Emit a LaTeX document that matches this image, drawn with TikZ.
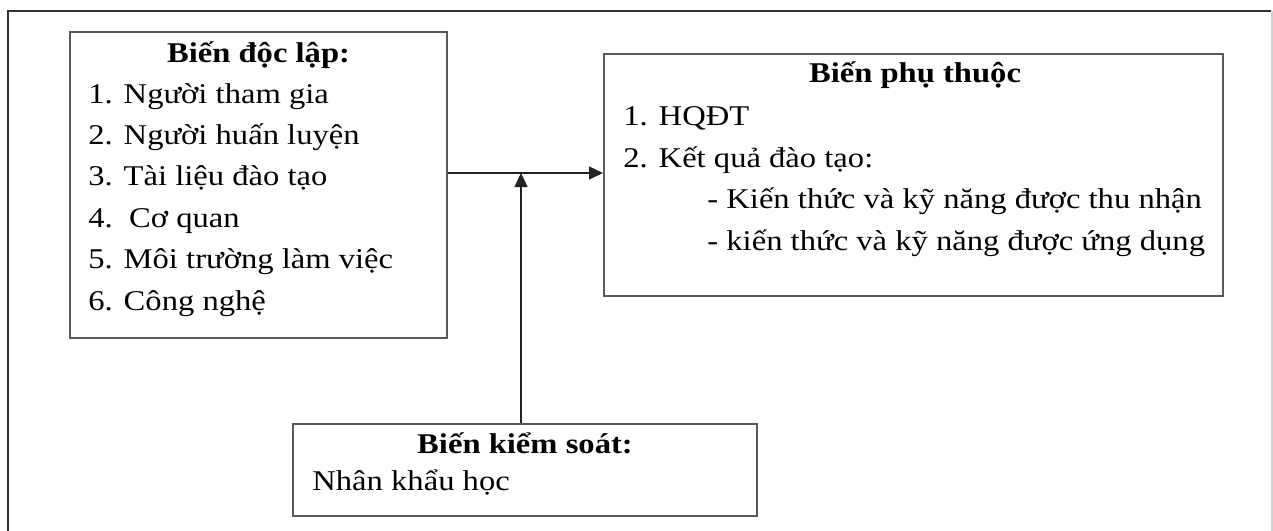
\documentclass[tikz,border=0pt]{standalone}
\usepackage{fontspec}
\setmainfont[FakeStretch=1.14]{Liberation Serif}
\usetikzlibrary{arrows.meta,positioning}
\definecolor{FrameDark}{HTML}{333333}
\definecolor{FrameLight}{HTML}{D0D0D0}
\definecolor{BoxGray}{HTML}{5A5A5A}
\definecolor{ArrowDark}{HTML}{222222}

\begin{document}
\begin{tikzpicture}[
    x=0.5pt, y=-0.5pt,
    varbox/.style={draw=BoxGray, line width=1pt, inner sep=0pt},
    boxtitle/.style={anchor=base, inner sep=0pt, font=\fontsize{14.3}{20}\selectfont\bfseries},
    item/.style={anchor=base west, inner sep=0pt, font=\fontsize{14.3}{20}\selectfont},
    arrow/.style={-{Triangle[length=7pt,width=6.5pt]}, line width=0.6pt, draw=ArrowDark}
]
\useasboundingbox (0,0) rectangle (1273,530);
% outer frame
\draw[FrameDark, line width=0.6pt] (8,535) -- (8,11) -- (1271,11);
\draw[FrameLight, line width=0.8pt] (1272,11) -- (1272,535);

% boxes
\node[varbox, minimum width=188.5pt, minimum height=153pt] (indep) at (258.5,185) {};
\node[varbox, minimum width=309.5pt, minimum height=121pt] (dep) at (913.5,175) {};
\node[varbox, minimum width=232pt, minimum height=46pt] (ctrl) at (525,470) {};

% independent variables
\node[boxtitle] (indeptitle) at (258.5,62) {Biến độc lập:};
\foreach \t [count=\i] in {1. Người tham gia, 2. Người huấn luyện, 3. Tài liệu đào tạo,
    4.\ \ Cơ quan, 5. Môi trường làm việc, 6. Công nghệ}
  \node[item] (ind\i) at (88,{103+41.4*(\i-1)}) {\t};

% dependent variables
\node[boxtitle] (deptitle) at (915,82) {Biến phụ thuộc};
\node[item] (dep1) at (623,125) {1. HQĐT};
\node[item] (dep2) at (623,167) {2. Kết quả đào tạo:};
\node[item] (dep2a) at (707,208) {- Kiến thức và kỹ năng được thu nhận};
\node[item] (dep2b) at (707,250) {- kiến thức và kỹ năng được ứng dụng};

% control variables
\node[boxtitle] (ctrltitle) at (525,453) {Biến kiểm soát:};
\node[item] (ctrl1) at (312,490) {Nhân khẩu học};

% connectors
\coordinate (join) at (521,173);
\draw[arrow] (indep.east |- join) -- (dep.west |- join);
\draw[arrow] (ctrl.north -| join) -- (join);
\end{tikzpicture}
\end{document}
